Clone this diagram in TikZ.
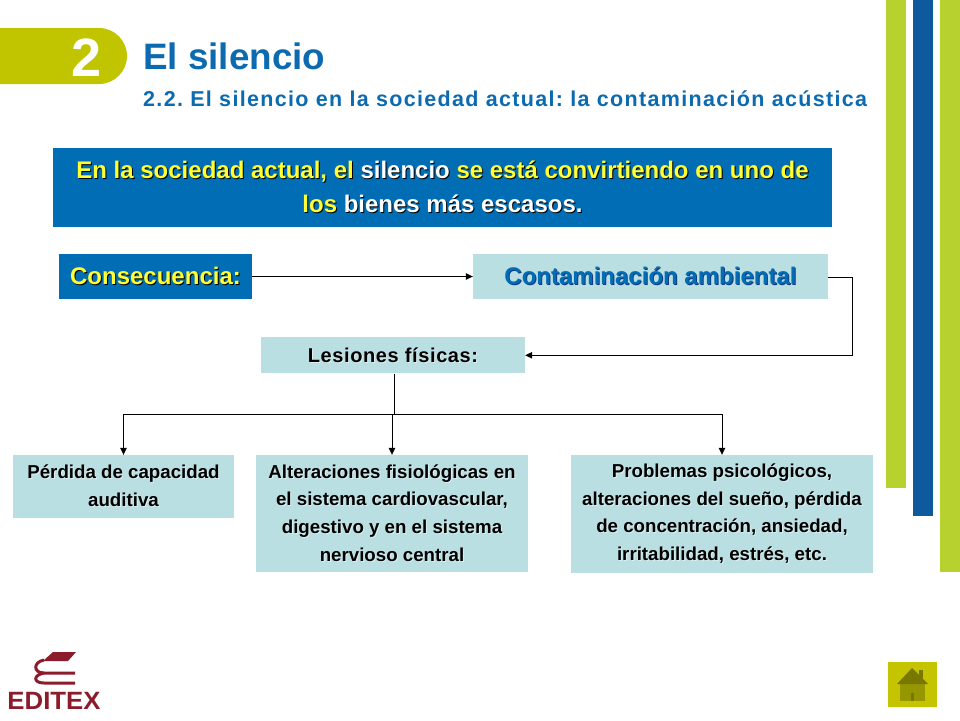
\documentclass[tikz,border=0pt]{standalone}
\usepackage{fontspec}
\setmainfont{Liberation Sans}
\usetikzlibrary{arrows.meta}
\definecolor{lima}{HTML}{C1C500}
\definecolor{barraLima}{HTML}{B7D12F}
\definecolor{barraAzul}{HTML}{0F5A9C}
\definecolor{azul}{HTML}{006DB5}
\definecolor{titulo}{HTML}{0C6BB0}
\definecolor{clara}{HTML}{B9DFE3}
\definecolor{amarillo}{HTML}{FFFF33}
\definecolor{granate}{HTML}{8C1C2C}
\definecolor{casa}{HTML}{C4C400}
\definecolor{techo}{HTML}{787800}
\definecolor{pared}{HTML}{969600}
\definecolor{marino}{HTML}{123A80}
\newcommand{\sombra}[3]{\leavevmode\rlap{\raisebox{-1pt}{\hspace{1pt}\textcolor{#2}{#3}}}\textcolor{#1}{#3}}
\frenchspacing
\begin{document}
\begin{tikzpicture}[x=1pt,y=-1pt,caja/.style={inner sep=0pt,align=center,font=\bfseries},cajaAzul/.style={caja,fill=azul},cajaClara/.style={caja,fill=clara},grande/.style={font=\fontsize{24}{34}\bfseries\selectfont},media/.style={font=\fontsize{20}{36}\bfseries\selectfont\addfontfeature{LetterSpace=3}},chica/.style={font=\fontsize{18.7}{27.6}\bfseries\selectfont},linea/.style={line width=0.8pt,black},flecha/.style={linea,-{Triangle[length=7pt,width=6.5pt]}},barra/.style={inner sep=0pt,anchor=north west}]
\useasboundingbox (0,0) rectangle (960,720);

\node[barra,fill=barraLima,minimum width=20pt,minimum height=488pt] (barraA) at (886,0) {};
\node[barra,fill=barraAzul,minimum width=20pt,minimum height=516pt] (barraB) at (913,0) {};
\node[barra,fill=barraLima,minimum width=20pt,minimum height=572pt] (barraC) at (940,0) {};

\fill[lima] (0,28) -- (99,28) arc[start angle=-90,end angle=90,radius=28] -- (0,84) -- cycle;
\node[font=\fontsize{54}{54}\bfseries\selectfont,text=white] (num) at (87,58) {2};
\node[anchor=west,inner sep=0pt,text=titulo,font=\fontsize{36.8}{36.8}\bfseries\selectfont] (tit) at (143,56) {El silencio};
\node[anchor=west,inner sep=0pt,text=titulo,font=\fontsize{21.5}{21.5}\bfseries\selectfont] (sub) at (143,99) {\addfontfeature{LetterSpace=6.15}2.2. El silencio en la sociedad actual: la contaminación acústica};

\node[cajaAzul,grande,minimum width=779pt,minimum height=79pt] (frase) at (442.5,187.8) {\sombra{amarillo}{black}{En la sociedad actual, el} \sombra{white}{black}{silencio} \sombra{amarillo}{black}{se está convirtiendo en uno de}\\\sombra{amarillo}{black}{los} \sombra{white}{black}{bienes más escasos.}};

\node[cajaAzul,grande,minimum width=193pt,minimum height=45pt] (cons) at (155.5,276.5) {\sombra{amarillo}{black}{Consecuencia:}};
\node[cajaClara,grande,minimum width=355pt,minimum height=45pt] (cont) at (650.5,276.5) {\sombra{azul}{marino}{Contaminación ambiental}};
\node[cajaClara,media,minimum width=264pt,minimum height=36pt] (les) at (393,355.3) {\sombra{black}{white!50!clara}{Lesiones físicas:}};

\node[cajaClara,chica,minimum width=221pt,minimum height=63pt] (perd) at (123.5,486.5) {\sombra{black}{white!50!clara}{Pérdida de capacidad}\\\sombra{black}{white!50!clara}{auditiva}};
\node[cajaClara,chica,minimum width=272pt,minimum height=117pt] (alt) at (392,513.5) {\sombra{black}{white!50!clara}{Alteraciones fisiológicas en}\\\sombra{black}{white!50!clara}{el sistema cardiovascular,}\\\sombra{black}{white!50!clara}{digestivo y en el sistema}\\\sombra{black}{white!50!clara}{nervioso central}};
\node[cajaClara,chica,minimum width=302pt,minimum height=118pt] (prob) at (722,514) {\sombra{black}{white!50!clara}{Problemas psicológicos,}\\\sombra{black}{white!50!clara}{alteraciones del sueño, pérdida}\\\sombra{black}{white!50!clara}{de concentración, ansiedad,}\\\sombra{black}{white!50!clara}{irritabilidad, estrés, etc.}};

\coordinate (codo) at (852,277);
\coordinate (bus) at (394,414);
\draw[flecha] (cons) -- (cont);
\draw[flecha] (cont.east |- codo) -- (codo) |- (les.east);
\draw[linea] (les.south -| bus) -- (bus);
\draw[flecha] (bus) -| (perd.north);
\draw[flecha] (bus) -| (alt.north);
\draw[flecha] (bus) -| (prob.north);

\fill[granate] (53,652) -- (76,652) -- (68,661) -- (43,661) -- cycle;
\draw[granate,line width=3pt] (44,660) .. controls (33,662) and (33,673) .. (44,673) -- (75,673);
\draw[granate,line width=3pt] (44,673) .. controls (33,675) and (33,683) .. (44,683) -- (75,683);
\node[text=granate,inner sep=0pt,font=\fontsize{25}{25}\bfseries\selectfont,xscale=1.03] (logo) at (54,701) {EDITEX};

\node[barra,fill=casa,minimum width=49pt,minimum height=45pt] (home) at (888,662) {};
\fill[pared] (900,684) rectangle (925,701);
\fill[techo] (919,670) rectangle (923,678);
\fill[techo] (912,668) -- (928,684) -- (897,684) -- cycle;
\fill[techo] (911,693) rectangle (914,701);
\end{tikzpicture}
\end{document}
